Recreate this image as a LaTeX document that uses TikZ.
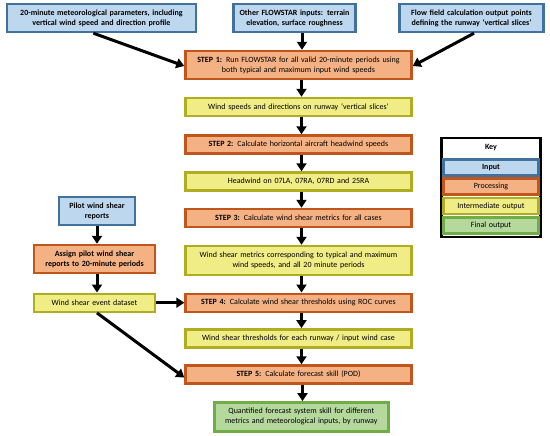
\documentclass[tikz,border=0pt]{standalone}
\usepackage{fontspec}
\setmainfont{Carlito}
\usetikzlibrary{arrows.meta}
\definecolor{infill}{HTML}{BDD7EE}
\definecolor{inline}{HTML}{41719C}
\definecolor{procfill}{HTML}{F4B183}
\definecolor{procline}{HTML}{C0561B}
\definecolor{midfill}{HTML}{F0EC86}
\definecolor{midline}{HTML}{AFAD22}
\definecolor{finfill}{HTML}{B5D99C}
\definecolor{finline}{HTML}{70AD47}
\tikzset{
  box/.style={rectangle,draw,line width=2.4pt,align=center,inner xsep=0pt,inner ysep=1pt,
    font=\fontsize{8}{10}\selectfont},
  inbox/.style={box,fill=infill,draw=inline,font=\fontsize{8}{10}\selectfont\bfseries},
  procbox/.style={box,fill=procfill,draw=procline},
  midbox/.style={box,fill=midfill,draw=midline},
  finbox/.style={box,fill=finfill,draw=finline},
  flow/.style={line width=3pt,-{Triangle[length=8pt,width=10pt]}}
}
\begin{document}
\begin{tikzpicture}[x=1pt,y=-1pt]
    \useasboundingbox (0,0) rectangle (550,436);

    % inputs
    \node[inbox,text width=189pt,minimum height=28pt](met) at (101.4,18)
      {20-minute meteorological parameters, including\\vertical wind speed and direction profile};
    \node[inbox,text width=122pt,minimum height=28pt](terrain) at (294.5,18)
      {Other FLOWSTAR inputs: terrain\\elevation, surface roughness};
    \node[inbox,text width=144pt,minimum height=28pt](points) at (471.5,18)
      {Flow field calculation output points\\defining the runway ‘vertical slices’};

    % main chain
    \node[procbox,text width=226pt,minimum height=28pt](s1) at (298.5,65)
      {\textbf{STEP 1:} Run FLOWSTAR for all valid 20-minute periods using\\both typical and maximum input wind speeds};
    \node[midbox,text width=226pt,minimum height=18pt](o1) at (298.5,107)
      {Wind speeds and directions on runway ‘vertical slices’};
    \node[procbox,text width=226pt,minimum height=18pt](s2) at (298.5,144.5)
      {\textbf{STEP 2:} Calculate horizontal aircraft headwind speeds};
    \node[midbox,text width=226pt,minimum height=18pt](o2) at (298.5,181.5)
      {Headwind on 07LA, 07RA, 07RD and 25RA};
    \node[procbox,text width=226pt,minimum height=18pt](s3) at (298.5,218)
      {\textbf{STEP 3:} Calculate wind shear metrics for all cases};
    \node[midbox,text width=226pt,minimum height=29pt](o3) at (298.5,260.5)
      {Wind shear metrics corresponding to typical and maximum\\wind speeds, and all 20 minute periods};
    \node[procbox,text width=226pt,minimum height=18pt](s4) at (298.5,302.7)
      {\textbf{STEP 4:} Calculate wind shear thresholds using ROC curves};
    \node[midbox,text width=226pt,minimum height=18pt](o4) at (298.5,338.3)
      {Wind shear thresholds for each runway / input wind case};
    \node[procbox,text width=226pt,minimum height=18pt](s5) at (298.5,374.5)
      {\textbf{STEP 5:} Calculate forecast skill (POD)};
    \node[finbox,text width=174pt,minimum height=29pt](skill) at (301.3,416.8)
      {Quantified forecast system skill for different\\metrics and meteorological inputs, by runway};

    % pilot reports
    \node[inbox,text width=76pt,minimum height=28pt](pilot) at (97,211.3)
      {Pilot wind shear\\reports};
    \node[procbox,text width=121pt,minimum height=28pt,font=\fontsize{8}{10}\selectfont\bfseries](assign) at (94.5,259)
      {Assign pilot wind shear\\reports to 20-minute periods};
    \node[midbox,text width=121pt,minimum height=18pt](event) at (94.5,302.7)
      {Wind shear event dataset};

    % key
    \node[draw,line width=2.8pt,minimum width=99pt,minimum height=99pt,inner sep=0pt](key) at (491,187.5) {};
    \node[font=\fontsize{8}{10}\selectfont\bfseries](keytitle) at (491,148) {Key};
    \node[inbox,text width=95pt,minimum height=16pt](kin) at (491,167.5) {Input};
    \node[procbox,text width=95pt,minimum height=16pt](kproc) at (491,186.5) {Processing};
    \node[midbox,text width=95pt,minimum height=16pt](kmid) at (491,206) {Intermediate output};
    \node[finbox,text width=95pt,minimum height=16pt](kfin) at (491,225.5) {Final output};

    % arrows
    \draw[flow] ([xshift=-8pt]met.south) -- ([yshift=-1pt]s1.west);
    \draw[flow] ([xshift=7.5pt]terrain.south) -- ([xshift=7.5pt]terrain.south |- s1.north);
    \draw[flow] ([xshift=2.5pt]points.south) -- ([yshift=-1pt]s1.east);
    \foreach \a/\b in {s1/o1, o1/s2, s2/o2, o2/s3, s3/o3, o3/s4, s4/o4, o4/s5} {
      \draw[flow] ([xshift=3pt]\a.south) -- ([xshift=3pt]\a.south |- \b.north);
    }
    \draw[flow] ([xshift=4pt]s5.south) -- ([xshift=4pt]s5.south |- skill.north);
    \draw[flow] (pilot.south) -- (pilot.south |- assign.north);
    \draw[flow] (pilot.south |- assign.south) -- (pilot.south |- event.north);
    \draw[flow] (event.east) -- (s4.west);
    \draw[flow] (pilot.south |- event.south) -- ([yshift=-3pt]s5.west);
\end{tikzpicture}
\end{document}
